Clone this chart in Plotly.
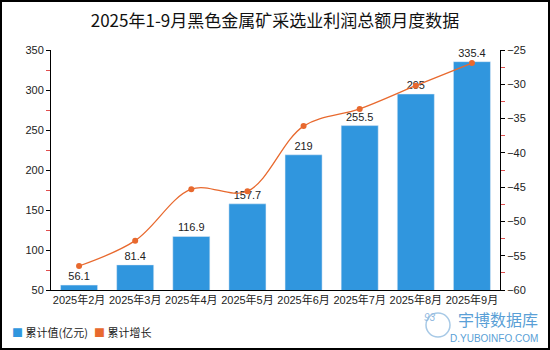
import plotly.graph_objects as go

months = ["2025年2月", "2025年3月", "2025年4月", "2025年5月", "2025年6月", "2025年7月", "2025年8月", "2025年9月"]
cum_value = [56.1, 81.4, 116.9, 157.7, 219, 255.5, 295, 335.4]
cum_growth = [-56.5, -52.8, -45.3, -45.6, -36.1, -33.6, -30.2, -26.9]
left_ticks = [50, 100, 150, 200, 250, 300, 350]
right_ticks = [-60, -55, -50, -45, -40, -35, -30, -25]

BLUE = "#3096de"
ORANGE = "#e8692e"
FONT = "Liberation Sans, Noto Sans CJK SC, sans-serif"

# plot area geometry (pixels)
L, R, T, B = 51, 50, 50, 60
PW, PH = 550 - L - R, 350 - T - B


def px(x):
    return (x - L) / PW


def py(y):
    return (350 - B - y) / PH


fig = go.Figure()
fig.add_trace(go.Bar(
    x=months, y=cum_value, marker_color=BLUE, showlegend=False,
    text=[f"{v:g}" for v in cum_value], textposition="outside",
    textfont=dict(size=11, color="#222"), cliponaxis=False,
))
fig.add_trace(go.Scatter(
    x=months, y=cum_growth, yaxis="y2", mode="lines+markers",
    line=dict(color=ORANGE, width=1.3, shape="spline", smoothing=1.0),
    marker=dict(color=ORANGE, size=6), showlegend=False,
))

fig.update_layout(
    width=550, height=350,
    margin=dict(l=L, r=R, t=T, b=B),
    paper_bgcolor="white", plot_bgcolor="white",
    font=dict(family=FONT, size=11, color="#222"),
    title=dict(text="2025年1-9月黑色金属矿采选业利润总额月度数据", x=0.5, xanchor="center",
               y=0.94, yanchor="middle",
               font=dict(family="Noto Sans CJK SC, sans-serif", size=17, color="#111")),
    bargap=0.34,
    showlegend=False,
    xaxis=dict(showline=True, linecolor="black", linewidth=1, ticks="", tickfont=dict(size=11),
               showgrid=False),
    yaxis=dict(range=[50, 350], tickvals=left_ticks, showline=True, linecolor="black",
               ticks="outside", ticklen=4, tickcolor="black", showgrid=False, zeroline=False,
               tickfont=dict(size=11),
               minor=dict(tickvals=[75, 125, 175, 225, 275, 325], ticks="outside", ticklen=4,
                          tickcolor="#e05050")),
    yaxis2=dict(range=[-60, -25], tickvals=right_ticks, overlaying="y", side="right",
                showline=True, linecolor="black", ticks="outside", ticklen=4, tickcolor="black",
                showgrid=False, zeroline=False, tickfont=dict(size=11),
                minor=dict(tickvals=[-57.5, -52.5, -47.5, -42.5, -37.5, -32.5, -27.5], ticks="outside",
                           ticklen=4, tickcolor="#e05050")),
    shapes=[dict(type="rect", xref="paper", yref="paper",
                 x0=px(1), x1=px(549), y0=py(349), y1=py(1),
                 line=dict(color="black", width=2))],
)

# custom legend
fig.add_annotation(text=f"<span style='color:{BLUE}'>■</span> 累计值(亿元)", xref="paper", yref="paper",
                   x=px(10), y=py(332), xanchor="left", yanchor="middle", showarrow=False,
                   font=dict(family="Noto Sans CJK SC", size=11, color="#222"))
fig.add_annotation(text=f"<span style='color:{ORANGE}'>■</span> 累计增长", xref="paper", yref="paper",
                   x=px(92), y=py(332), xanchor="left", yanchor="middle", showarrow=False,
                   font=dict(family="Noto Sans CJK SC", size=11, color="#222"))

# watermark
fig.add_annotation(text="宇博数据库", xref="paper", yref="paper", x=px(540), y=py(319),
                   xanchor="right", yanchor="middle", showarrow=False,
                   font=dict(family="Noto Sans CJK SC", size=16, color="#5a9fd6"))
fig.add_annotation(text="D.YUBOINFO.COM", xref="paper", yref="paper", x=px(540), y=py(338),
                   xanchor="right", yanchor="middle", showarrow=False,
                   font=dict(family="Liberation Sans", size=10, color="#5a9fd6"))
fig.add_shape(type="circle", xref="paper", yref="paper",
              x0=px(426), x1=px(450), y0=py(337), y1=py(313),
              line=dict(color="#a7c9e6", width=1.5))
fig.add_annotation(text="<i>93</i>", xref="paper", yref="paper", x=px(438), y=py(325),
                   showarrow=False, font=dict(size=10, color="#8fb8de"))

fig.write_html("out.html")
